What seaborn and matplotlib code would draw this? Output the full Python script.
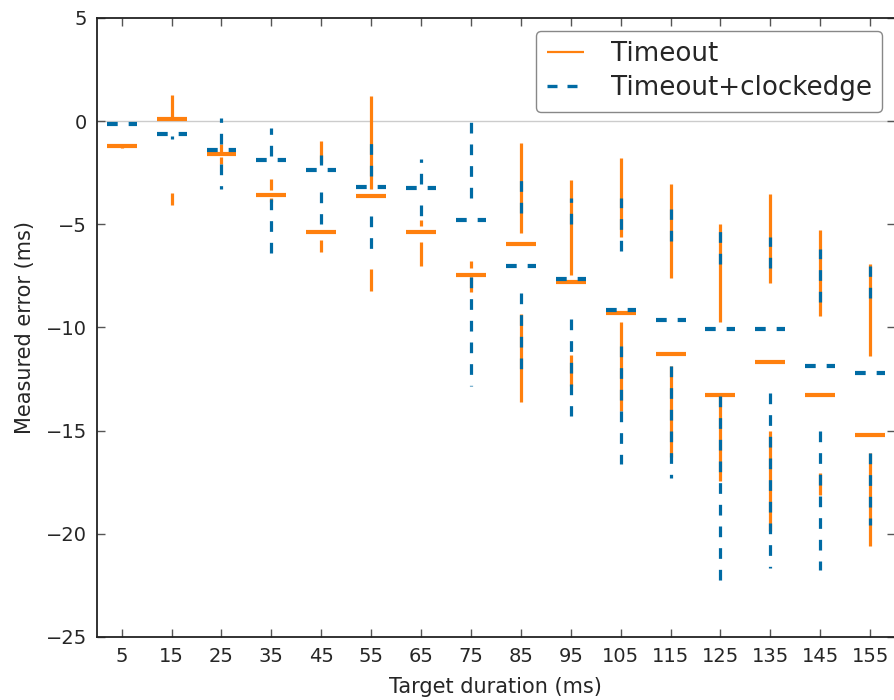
import matplotlib
matplotlib.use("Agg")
import matplotlib.pyplot as plt
from matplotlib.lines import Line2D
import numpy as np
import pandas as pd
import seaborn as sns

# ---------------- data ----------------
targets = [5, 15, 25, 35, 45, 55, 65, 75, 85, 95, 105, 115, 125, 135, 145, 155]
tick_labels = [str(t) for t in targets]

# Timeout (orange): max, upper quartile, median, lower quartile, min
to_max = [-1.18, 1.26, -1.13, -2.82, -0.97, 1.21, -4.79, -6.77, -1.05, -2.85, -1.77, -3.03, -4.98, -3.54, -5.27, -6.93]
to_q3 = [-1.18, 0.12, -1.50, -3.35, -2.05, -3.30, -5.08, -7.14, -5.40, -7.47, -5.59, -7.58, -9.73, -7.85, -9.46, -11.40]
to_med = [-1.18, 0.12, -1.61, -3.56, -5.37, -3.61, -5.37, -7.47, -5.93, -7.79, -9.29, -11.29, -13.25, -11.67, -13.29, -15.23]
to_q1 = [-1.20, -3.46, -1.75, -3.70, -5.77, -7.17, -5.84, -7.55, -9.35, -11.33, -9.75, -11.88, -13.34, -15.00, -17.05, -16.08]
to_min = [-1.32, -4.08, -2.10, -3.90, -6.34, -8.22, -7.01, -8.27, -13.62, -12.82, -14.03, -16.29, -17.45, -19.87, -18.10, -20.57]

# Timeout+clockedge (blue)
ce_max = [-0.13, -0.58, 0.16, -0.32, -1.62, -1.08, -1.85, 0.00, -2.85, -3.74, -3.71, -4.24, -5.30, -5.59, -6.19, -7.00]
ce_q3 = [-0.13, -0.58, -1.13, -1.69, -2.14, -2.66, -3.06, -3.71, -4.43, -5.00, -6.29, -5.81, -6.91, -7.12, -8.77, -8.58]
ce_med = [-0.13, -0.61, -1.38, -1.87, -2.35, -3.18, -3.24, -4.80, -7.03, -7.66, -9.16, -9.66, -10.06, -10.06, -11.87, -12.19]
ce_q1 = [-0.13, -0.73, -2.10, -3.79, -3.43, -4.60, -4.06, -7.53, -8.35, -9.60, -10.92, -11.88, -13.34, -13.17, -15.00, -16.08]
ce_min = [-0.13, -0.85, -3.27, -6.37, -5.00, -6.20, -4.60, -12.85, -12.00, -14.27, -16.61, -17.30, -22.78, -21.68, -21.73, -19.55]

series_names = ["Timeout", "Timeout+clockedge"]

# ---------------- style ----------------
sns.set_theme(style="ticks")
plt.rcParams["font.family"] = ["DejaVu Sans"]
plt.rcParams["lines.scale_dashes"] = False

orange = "#FF800E"
blue = "#006BA4"
palette = dict(zip(series_names, [orange, blue]))

df = pd.DataFrame({
    "target": targets * 2,
    "series": [series_names[0]] * len(targets) + [series_names[1]] * len(targets),
    "vmax": to_max + ce_max,
    "q3": to_q3 + ce_q3,
    "med": to_med + ce_med,
    "q1": to_q1 + ce_q1,
    "vmin": to_min + ce_min,
})

fig = plt.figure(figsize=(8.94, 7.0), dpi=100)
ax = fig.add_axes([0.1082, 0.09, 0.893, 0.8843])

ax.axhline(0, color="#cccccc", lw=1.0, zorder=0)

DASH = (7.7, 7.9)   # points
half = 3.0
lw = 2.3
for i, name in enumerate(series_names):
    sub = df[df["series"] == name]
    col = palette[name]
    z = 2 + i
    kw = dict(color=col, zorder=z, solid_capstyle="butt", dash_capstyle="butt")
    if i == 1:
        kw["dashes"] = DASH
    for _, r in sub.iterrows():
        x = r["target"]
        if r["vmax"] != r["q3"]:
            ax.plot([x, x], [r["q3"], r["vmax"]], lw=lw, **kw)
        if r["vmin"] != r["q1"]:
            ax.plot([x, x], [r["q1"], r["vmin"]], lw=lw, **kw)
        ax.plot([x - half, x + half], [r["med"], r["med"]], lw=lw + 0.7, **kw)

ax.set_xlim(0, 160)
ax.set_ylim(-25, 5)
ax.set_xticks(targets)
ax.set_xticklabels(tick_labels)
ax.set_yticks([-25, -20, -15, -10, -5, 0, 5])
ax.tick_params(direction="in", length=6, width=1, color="#555555",
               top=True, right=True, labelsize=14, pad=7)
for sp in ax.spines.values():
    sp.set_color("#222222")
    sp.set_linewidth(1.3)

ax.set_xlabel("Target duration (ms)", fontsize=15, labelpad=8)
ax.set_ylabel("Measured error (ms)", fontsize=15, labelpad=8)

handles = [
    Line2D([], [], color=orange, lw=1.6, linestyle="solid", solid_capstyle="butt"),
    Line2D([], [], color=blue, lw=2.4, dashes=(7.2, 7.2), dash_capstyle="butt"),
]
leg = ax.legend(handles, series_names, loc="upper right", fontsize=18.8,
                frameon=True, fancybox=True, framealpha=1.0, edgecolor="#888888",
                handlelength=1.42, handletextpad=1.03, labelspacing=0.3,
                borderpad=0.4, borderaxespad=0.5)
leg.get_frame().set_linewidth(1.0)

fig.savefig("out.png", dpi=100)
